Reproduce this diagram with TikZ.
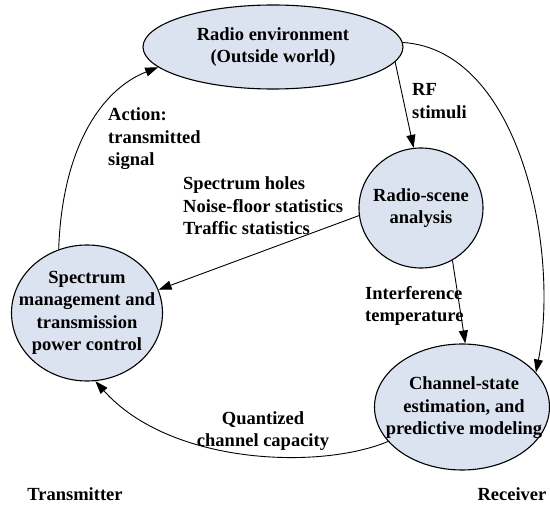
\documentclass[tikz,border=0pt]{standalone}
\usepackage{fontspec}
\setmainfont{Liberation Serif}
\usetikzlibrary{shapes.geometric,arrows.meta}
\definecolor{bubblefill}{RGB}{220,227,240}
\begin{document}
\begin{tikzpicture}[x=1pt,y=-1pt,
  bubble/.style={ellipse, draw, line width=1.1pt, fill=bubblefill, inner sep=0pt},
  txt/.style={font=\fontsize{18.5}{22.5}\selectfont\bfseries, align=center, inner sep=0pt},
  lbl/.style={txt, align=left, anchor=west},
  flow/.style={line width=0.9pt, -{Triangle[length=13pt,width=9pt]}}]
\useasboundingbox (0,0) rectangle (550,508);

% cognitive cycle blocks
\node[bubble, minimum width=260, minimum height=84] (env) at (273,47) {};
\node[txt] (envtext) at (273,47) {Radio environment\\(Outside world)};
\node[bubble, minimum width=124, minimum height=120] (rs) at (421,208) {};
\node[txt] (rstext) at (421,208) {Radio-scene\\analysis};
\node[bubble, minimum width=151, minimum height=136] (sm) at (87,313) {};
\node[txt] (smtext) at (87,313) {Spectrum\\management and\\transmission\\power control};
\node[bubble, minimum width=175, minimum height=126] (cs) at (462,407) {};
\node[txt] (cstext) at (464,408) {Channel-state\\estimation, and\\predictive modeling};

% connectors
\draw[flow] (env.-7) -- (rs.97);
\draw[flow] (env.2) .. controls (520,50) and (560,250) .. (cs.25);
\draw[flow] (rs.187) -- (sm.18);
\draw[flow] (rs.-59) -- (cs.87);
\draw[flow] (cs.205) .. controls (320,470) and (170,465) .. (sm.-83);
\draw[flow] (sm.114) .. controls (62,150) and (100,90) .. (env.190);

% labels
\node[lbl] (rf) at (412,101) {RF\\stimuli};
\node[lbl] (action) at (108,139) {Action:\\transmitted\\signal};
\node[lbl] (stats) at (183,206) {Spectrum holes\\Noise-floor statistics\\Traffic statistics};
\node[lbl] (interf) at (365,306) {Interference\\temperature};
\node[txt] (capacity) at (263,431) {Quantized\\channel capacity};
\node[txt] (tx) at (75,494) {Transmitter};
\node[txt] (rx) at (512,494) {Receiver};
\end{tikzpicture}
\end{document}
